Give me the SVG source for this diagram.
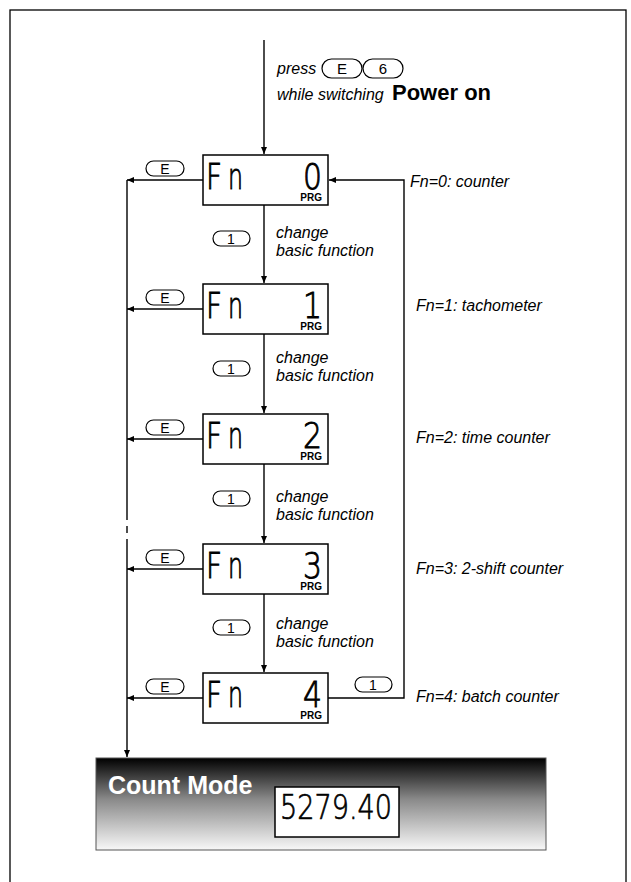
<svg xmlns="http://www.w3.org/2000/svg" width="631" height="882" viewBox="0 0 631 882">
<style>
.ln{fill:none;stroke:#000;stroke-width:1.4}
.box{fill:#fff;stroke:#000;stroke-width:1.5}
.pill{fill:#fff;stroke:#000;stroke-width:1.2}
.pt{font-family:"Liberation Sans",Arial,sans-serif;font-size:14px;text-anchor:middle}
.it{font-family:"Liberation Sans",Arial,sans-serif;font-size:16px;font-style:italic}
.seg{font-family:"DejaVu Sans",sans-serif;font-weight:200;font-size:36px;stroke:#000;stroke-width:0.9}
.prg{font-family:"Liberation Sans",Arial,sans-serif;font-size:10px;font-weight:bold;text-anchor:end}
</style>
<defs>
<marker id="ah" markerWidth="8" markerHeight="8" refX="7" refY="4" orient="auto" markerUnits="userSpaceOnUse">
<path d="M0,1 L7,4 L0,7 Z" fill="#000"/>
</marker>
<linearGradient id="gr" x1="0" y1="0" x2="0" y2="1">
<stop offset="0" stop-color="#000"/>
<stop offset="0.45" stop-color="#8a8a8a"/>
<stop offset="1" stop-color="#f8f8f8"/>
</linearGradient>
</defs>
<rect x="10" y="10" width="616" height="900" fill="none" stroke="#000" stroke-width="1.3"/>

<g id="connectors">
<line class="ln" x1="264" y1="40" x2="264" y2="154" marker-end="url(#ah)"/>
<line class="ln" x1="264" y1="205" x2="264" y2="283" marker-end="url(#ah)"/>
<line class="ln" x1="264" y1="334" x2="264" y2="413" marker-end="url(#ah)"/>
<line class="ln" x1="264" y1="464" x2="264" y2="543" marker-end="url(#ah)"/>
<line class="ln" x1="264" y1="594" x2="264" y2="672" marker-end="url(#ah)"/>
<line class="ln" x1="203" y1="180" x2="127" y2="180" marker-end="url(#ah)"/>
<line class="ln" x1="203" y1="309" x2="127" y2="309" marker-end="url(#ah)"/>
<line class="ln" x1="203" y1="439" x2="127" y2="439" marker-end="url(#ah)"/>
<line class="ln" x1="203" y1="569" x2="127" y2="569" marker-end="url(#ah)"/>
<line class="ln" x1="203" y1="698" x2="127" y2="698" marker-end="url(#ah)"/>
<line class="ln" x1="127" y1="180" x2="127" y2="520"/>
<line class="ln" x1="127" y1="526" x2="127" y2="533"/>
<line class="ln" x1="127" y1="539" x2="127" y2="757" marker-end="url(#ah)"/>
<polyline class="ln" points="328,698 404,698 404,180 329,180" marker-end="url(#ah)"/>
</g>

<g id="start">
<text class="it" x="277" y="74">press</text>
<rect class="pill" x="322" y="59" width="40" height="19" rx="9.5"/>
<text class="pt" x="342" y="74" style="font-size:15px">E</text>
<rect class="pill" x="363" y="59" width="40" height="19" rx="9.5"/>
<text class="pt" x="383" y="74" style="font-size:15px">6</text>
<text class="it" x="277" y="100">while switching</text>
<text x="392" y="100" font-family="Liberation Sans,Arial,sans-serif" font-weight="bold" font-size="22px">Power on</text>
</g>

<g id="fn0">
<rect class="box" x="203" y="155" width="125" height="50"/>
<text class="seg" x="206" y="189" textLength="16" lengthAdjust="spacingAndGlyphs">F</text>
<text class="seg" x="228" y="189" textLength="15" lengthAdjust="spacingAndGlyphs">n</text>
<text class="seg" x="303" y="189" textLength="19" lengthAdjust="spacingAndGlyphs">0</text>
<text class="prg" x="322" y="201">PRG</text>
<rect class="pill" x="146" y="161" width="38" height="15" rx="7.5"/>
<text class="pt" x="165" y="174">E</text>
<text class="it" x="410" y="187">Fn=0: counter</text>
</g>

<g id="fn1">
<rect class="box" x="203" y="284" width="125" height="50"/>
<text class="seg" x="206" y="318" textLength="16" lengthAdjust="spacingAndGlyphs">F</text>
<text class="seg" x="228" y="318" textLength="15" lengthAdjust="spacingAndGlyphs">n</text>
<text class="seg" x="303" y="318" textLength="19" lengthAdjust="spacingAndGlyphs">1</text>
<text class="prg" x="322" y="330">PRG</text>
<rect class="pill" x="146" y="290" width="38" height="15" rx="7.5"/>
<text class="pt" x="165" y="303">E</text>
<text class="it" x="416" y="311">Fn=1: tachometer</text>
</g>

<g id="fn2">
<rect class="box" x="203" y="414" width="125" height="50"/>
<text class="seg" x="206" y="448" textLength="16" lengthAdjust="spacingAndGlyphs">F</text>
<text class="seg" x="228" y="448" textLength="15" lengthAdjust="spacingAndGlyphs">n</text>
<text class="seg" x="303" y="448" textLength="19" lengthAdjust="spacingAndGlyphs">2</text>
<text class="prg" x="322" y="460">PRG</text>
<rect class="pill" x="146" y="420" width="38" height="15" rx="7.5"/>
<text class="pt" x="165" y="433">E</text>
<text class="it" x="416" y="443">Fn=2: time counter</text>
</g>

<g id="fn3">
<rect class="box" x="203" y="544" width="125" height="50"/>
<text class="seg" x="206" y="578" textLength="16" lengthAdjust="spacingAndGlyphs">F</text>
<text class="seg" x="228" y="578" textLength="15" lengthAdjust="spacingAndGlyphs">n</text>
<text class="seg" x="303" y="578" textLength="19" lengthAdjust="spacingAndGlyphs">3</text>
<text class="prg" x="322" y="590">PRG</text>
<rect class="pill" x="146" y="550" width="38" height="15" rx="7.5"/>
<text class="pt" x="165" y="563">E</text>
<text class="it" x="416" y="574">Fn=3: 2-shift counter</text>
</g>

<g id="fn4">
<rect class="box" x="203" y="673" width="125" height="50"/>
<text class="seg" x="206" y="707" textLength="16" lengthAdjust="spacingAndGlyphs">F</text>
<text class="seg" x="228" y="707" textLength="15" lengthAdjust="spacingAndGlyphs">n</text>
<text class="seg" x="303" y="707" textLength="19" lengthAdjust="spacingAndGlyphs">4</text>
<text class="prg" x="322" y="719">PRG</text>
<rect class="pill" x="146" y="679" width="38" height="15" rx="7.5"/>
<text class="pt" x="165" y="692">E</text>
<rect class="pill" x="355" y="677" width="37" height="15" rx="7.5"/>
<text class="pt" x="373" y="690">1</text>
<text class="it" x="416" y="702">Fn=4: batch counter</text>
</g>

<g id="change01">
<rect class="pill" x="213" y="231" width="37" height="15" rx="7.5"/>
<text class="pt" x="231" y="244">1</text>
<text class="it" x="276" y="238">change</text>
<text class="it" x="276" y="256">basic function</text>
</g>
<g id="change12">
<rect class="pill" x="213" y="361" width="37" height="15" rx="7.5"/>
<text class="pt" x="231" y="374">1</text>
<text class="it" x="276" y="363">change</text>
<text class="it" x="276" y="381">basic function</text>
</g>
<g id="change23">
<rect class="pill" x="213" y="491" width="37" height="15" rx="7.5"/>
<text class="pt" x="231" y="504">1</text>
<text class="it" x="276" y="502">change</text>
<text class="it" x="276" y="520">basic function</text>
</g>
<g id="change34">
<rect class="pill" x="213" y="620" width="37" height="15" rx="7.5"/>
<text class="pt" x="231" y="633">1</text>
<text class="it" x="276" y="629">change</text>
<text class="it" x="276" y="647">basic function</text>
</g>

<g id="countmode">
<rect x="96" y="758" width="450" height="92" fill="url(#gr)" stroke="#555" stroke-width="1"/>
<text x="108" y="794" fill="#fff" font-family="Liberation Sans,Arial,sans-serif" font-weight="bold" font-size="25px">Count Mode</text>
<rect x="275" y="787" width="124" height="50" fill="#fff" stroke="#000" stroke-width="1.5"/>
<text class="seg" x="280" y="819" style="font-size:33px;stroke-width:0.7" textLength="112" lengthAdjust="spacingAndGlyphs">5279.40</text>
</g>
</svg>
